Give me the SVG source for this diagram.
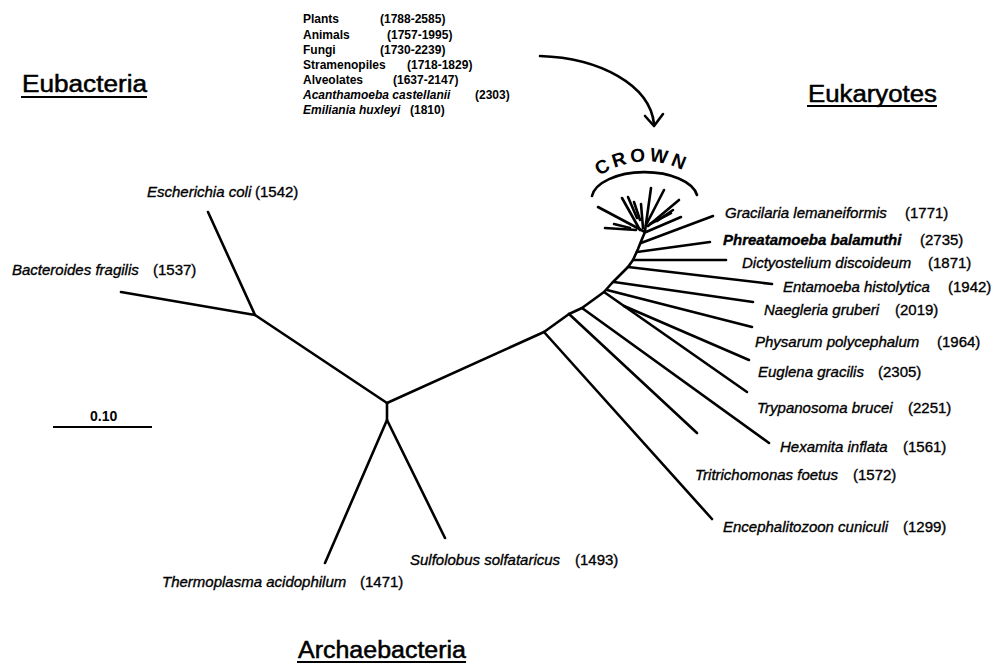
<svg xmlns="http://www.w3.org/2000/svg" width="991" height="664" viewBox="0 0 991 664">
<defs>
<style>
.br{fill:none;stroke:#000;stroke-width:2.6;stroke-linecap:round;stroke-linejoin:round}
.lf{font-family:"Liberation Sans",Arial,sans-serif;font-style:italic;font-size:15px;fill:#000;stroke:#000;stroke-width:0.35}
.num{font-family:"Liberation Sans",Arial,sans-serif;font-size:15px;fill:#000;stroke:#000;stroke-width:0.35}
.top{font-family:"Liberation Sans",Arial,sans-serif;font-weight:bold;font-size:12px;fill:#000}
.topi{font-family:"Liberation Sans",Arial,sans-serif;font-weight:bold;font-style:italic;font-size:12px;fill:#000}
.hd{font-family:"Liberation Sans",Arial,sans-serif;font-size:23px;fill:#000;stroke:#000;stroke-width:0.5}
.ul{stroke:#000;stroke-width:2}
</style>
<path id="crownArc" d="M 599 176 Q 647 146 697 178"/>
</defs>
<rect width="991" height="664" fill="#fff"/>

<g id="connectors">
  <polyline class="br" points="208,212 255,315 121,292"/>
  <line class="br" x1="255" y1="315" x2="387" y2="403"/>
  <line class="br" x1="387" y1="403" x2="387" y2="420"/>
  <polyline class="br" points="325,563 387,420 445,538"/>
  <polyline class="br" points="387,403 544,332 569,314 582,308 604,292 612,283 620,275 628,267 633,260 638,249 642,239 645,232"/>
  <line class="br" x1="544" y1="332" x2="712" y2="519"/>
  <line class="br" x1="569" y1="314" x2="697" y2="433"/>
  <line class="br" x1="582" y1="308" x2="769" y2="443"/>
  <line class="br" x1="604" y1="292" x2="747" y2="392"/>
  <line class="br" x1="624" y1="306" x2="749" y2="360"/>
  <line class="br" x1="607" y1="290" x2="752" y2="327"/>
  <line class="br" x1="614" y1="282" x2="753" y2="302"/>
  <line class="br" x1="628" y1="267" x2="772" y2="284"/>
  <line class="br" x1="633" y1="260" x2="726" y2="260"/>
  <line class="br" x1="637" y1="252" x2="710" y2="242"/>
  <line class="br" x1="641" y1="243" x2="713" y2="216"/>
  <g stroke-width="3">
  <line class="br" x1="645" y1="232" x2="598" y2="207"/>
  <line class="br" x1="636" y1="230" x2="605" y2="228"/>
  <line class="br" x1="630" y1="228" x2="614" y2="224"/>
  <line class="br" x1="640" y1="230" x2="622" y2="198"/>
  <line class="br" x1="637" y1="218" x2="628" y2="197"/>
  <line class="br" x1="640" y1="220" x2="634" y2="202"/>
  <line class="br" x1="643" y1="228" x2="641" y2="204"/>
  <line class="br" x1="645" y1="231" x2="651" y2="188"/>
  <line class="br" x1="646" y1="225" x2="664" y2="190"/>
  <line class="br" x1="648" y1="226" x2="679" y2="200"/>
  <line class="br" x1="650" y1="224" x2="671" y2="213"/>
  <line class="br" x1="657" y1="221" x2="673" y2="210"/>
  <line class="br" x1="646" y1="232" x2="681" y2="217"/>
  </g>
  <path class="br" d="M 592 196 A 53 27 0 0 1 697 195"/>
  <path class="br" stroke-width="3.2" d="M 540 56 C 600 58 650 85 654 124"/>
  <polyline class="br" stroke-width="3.2" points="645,116 654,126 663,114"/>
  <line x1="53" y1="427" x2="152" y2="427" stroke="#000" stroke-width="2"/>
</g>

<g id="list">
  <text class="top" x="303" y="23">Plants</text><text class="top" x="380" y="23">(1788-2585)</text>
  <text class="top" x="303" y="39">Animals</text><text class="top" x="387" y="39">(1757-1995)</text>
  <text class="top" x="303" y="54">Fungi</text><text class="top" x="380" y="54">(1730-2239)</text>
  <text class="top" x="303" y="69">Stramenopiles</text><text class="top" x="407" y="69">(1718-1829)</text>
  <text class="top" x="303" y="84">Alveolates</text><text class="top" x="393" y="84">(1637-2147)</text>
  <text class="topi" x="303" y="99">Acanthamoeba castellanii</text><text class="top" x="475" y="99">(2303)</text>
  <text class="topi" x="303" y="114">Emiliania huxleyi</text><text class="top" x="410" y="114">(1810)</text>
</g>

<g id="headings">
  <text class="hd" x="22" y="92" textLength="125" lengthAdjust="spacingAndGlyphs">Eubacteria</text>
  <line class="ul" x1="21" y1="97" x2="147" y2="97"/>
  <text class="hd" x="808" y="102" textLength="129" lengthAdjust="spacingAndGlyphs">Eukaryotes</text>
  <line class="ul" x1="807" y1="106" x2="937" y2="106"/>
  <text class="hd" x="298" y="658" textLength="168" lengthAdjust="spacingAndGlyphs">Archaebacteria</text>
  <line class="ul" x1="297" y1="662" x2="466" y2="662"/>
</g>

<g id="crown-label">
  <text font-family="'Liberation Sans',Arial,sans-serif" font-weight="bold" font-size="19" letter-spacing="3.5"><textPath href="#crownArc">CROWN</textPath></text>
</g>

<g id="scale"><text x="90" y="421" font-family="'Liberation Sans',Arial,sans-serif" font-weight="bold" font-size="14">0.10</text></g>

<g id="n-ecoli"><text class="lf" x="147" y="197">Escherichia coli</text><text class="num" x="255" y="197">(1542)</text></g>
<g id="n-bacteroides"><text class="lf" x="12" y="275">Bacteroides fragilis</text><text class="num" x="153" y="275">(1537)</text></g>
<g id="n-thermoplasma"><text class="lf" x="162" y="587">Thermoplasma acidophilum</text><text class="num" x="360" y="587">(1471)</text></g>
<g id="n-sulfolobus"><text class="lf" x="410" y="565">Sulfolobus solfataricus</text><text class="num" x="575" y="565">(1493)</text></g>
<g id="n-gracilaria"><text class="lf" x="725" y="218">Gracilaria lemaneiformis</text><text class="num" x="905" y="218">(1771)</text></g>
<g id="n-phreatamoeba"><text class="lf" font-weight="bold" x="723" y="245">Phreatamoeba balamuthi</text><text class="num" x="920" y="245">(2735)</text></g>
<g id="n-dictyostelium"><text class="lf" x="742" y="268">Dictyostelium discoideum</text><text class="num" x="928" y="268">(1871)</text></g>
<g id="n-entamoeba"><text class="lf" x="783" y="292">Entamoeba histolytica</text><text class="num" x="948" y="292">(1942)</text></g>
<g id="n-naegleria"><text class="lf" x="764" y="315">Naegleria gruberi</text><text class="num" x="895" y="315">(2019)</text></g>
<g id="n-physarum"><text class="lf" x="755" y="347">Physarum polycephalum</text><text class="num" x="937" y="347">(1964)</text></g>
<g id="n-euglena"><text class="lf" x="758" y="377">Euglena gracilis</text><text class="num" x="878" y="377">(2305)</text></g>
<g id="n-trypanosoma"><text class="lf" x="757" y="413">Trypanosoma brucei</text><text class="num" x="908" y="413">(2251)</text></g>
<g id="n-hexamita"><text class="lf" x="780" y="452">Hexamita inflata</text><text class="num" x="903" y="452">(1561)</text></g>
<g id="n-tritrichomonas"><text class="lf" x="695" y="480">Tritrichomonas foetus</text><text class="num" x="853" y="480">(1572)</text></g>
<g id="n-encephalitozoon"><text class="lf" x="723" y="532">Encephalitozoon cuniculi</text><text class="num" x="903" y="532">(1299)</text></g>
</svg>
